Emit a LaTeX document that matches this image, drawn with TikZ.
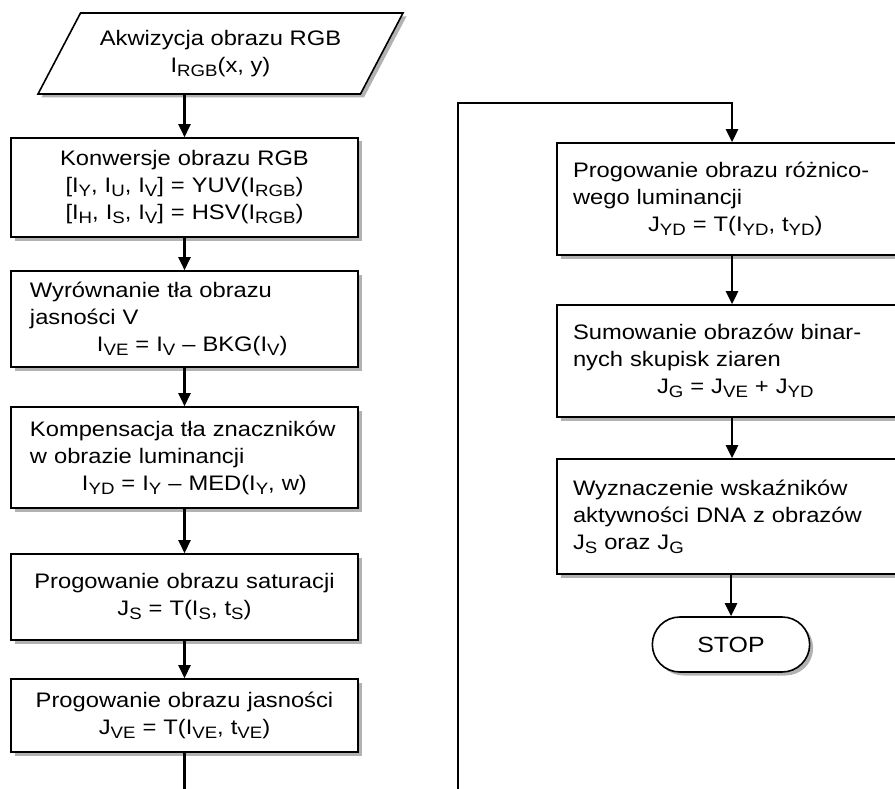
\documentclass[tikz,border=0pt]{standalone}
\usepackage{fontspec}
\setmainfont{Liberation Sans}[FakeStretch=1.13]
\usetikzlibrary{arrows.meta,shapes.geometric,shapes.misc,shadows}
\newcommand\sbs[1]{\raisebox{-4pt}{\fontsize{16.5}{16.5}\selectfont #1}}
\tikzset{
  box/.style={draw, line width=1.6pt, fill=white,
    drop shadow={shadow xshift=3.5pt, shadow yshift=-3.5pt, fill=gray!60, opacity=1},
    inner ysep=0pt, font=\fontsize{21}{27}\selectfont},
  lbox/.style={box, rectangle, text width=309pt, inner xsep=19pt, align=left},
  cbox/.style={box, rectangle, text width=309pt, inner xsep=19pt, align=center},
  rbox/.style={box, rectangle, text width=318pt, inner xsep=16pt, align=left},
  conn/.style={line width=2.6pt, -{Triangle[width=12pt,length=13pt]}},
  wire/.style={line width=2.6pt}
}
\begin{document}
\begin{tikzpicture}[x=1pt,y=-1pt]
\useasboundingbox (0,0) rectangle (895,789);
\begin{scope}
\clip (0,0) rectangle (895,789);
\node[box, trapezium, trapezium left angle=47.6, trapezium right angle=132.4,
  trapezium stretches body, minimum width=365pt, minimum height=81pt,
  align=center, inner xsep=0pt] (acq) at (220.5,53.5)
  {Akwizycja obrazu RGB\\\mbox{I\sbs{RGB}(x, y)}};

\node[cbox, minimum height=99pt] (b1) at (184.5,187.5)
  {\mbox{Konwersje obrazu RGB}\\\mbox{[I\sbs{Y}, I\sbs{U}, I\sbs{V}] = YUV(I\sbs{RGB})}\\\mbox{[I\sbs{H}, I\sbs{S}, I\sbs{V}] = HSV(I\sbs{RGB})}};
\node[lbox, minimum height=96pt] (b2) at (184.5,319)
  {\mbox{Wyrównanie tła obrazu}\\\mbox{jasności V}\\\hspace*{67pt}\mbox{I\sbs{VE} = I\sbs{V} – BKG(I\sbs{V})}};
\node[lbox, minimum height=101pt] (b3) at (184.5,457.5)
  {\mbox{Kompensacja tła znaczników}\\\mbox{w obrazie luminancji}\\\hspace*{52pt}\mbox{I\sbs{YD} = I\sbs{Y} – MED(I\sbs{Y}, w)}};
\node[cbox, minimum height=86pt] (b4) at (184.5,597)
  {\mbox{Progowanie obrazu saturacji}\\\mbox{J\sbs{S} = T(I\sbs{S}, t\sbs{S})}};
\node[cbox, minimum height=73pt] (b5) at (184.5,715.5)
  {\mbox{Progowanie obrazu jasności}\\\mbox{J\sbs{VE} = T(I\sbs{VE}, t\sbs{VE})}};

\node[rbox, minimum height=112pt] (r1) at (732,199)
  {\mbox{Progowanie obrazu różnico-}\\\mbox{wego luminancji}\\\hspace*{75pt}\mbox{J\sbs{YD} = T(I\sbs{YD}, t\sbs{YD})}};
\node[rbox, minimum height=112pt] (r2) at (732,361)
  {\mbox{Sumowanie obrazów binar-}\\\mbox{nych skupisk ziaren}\\\hspace*{84pt}\mbox{J\sbs{G} = J\sbs{VE} + J\sbs{YD}}};
\node[rbox, minimum height=115pt] (r3) at (732,516.5)
  {\mbox{Wyznaczenie wskaźników}\\\mbox{aktywności DNA z obrazów}\\\mbox{J\sbs{S} oraz J\sbs{G}}};
\node[box, rounded rectangle, minimum width=164pt, minimum height=55pt,
  font=\fontsize{22}{27}\selectfont] (stop) at (731,644.5) {STOP};

\coordinate (lend) at (184.5,789);
\coordinate (rstart) at (458,789);
\coordinate (rtop) at (458,103);

\draw[conn] (b1.north |- acq.south) -- (b1.north);
\draw[conn] (b1) -- (b2);
\draw[conn] (b2) -- (b3);
\draw[conn] (b3) -- (b4);
\draw[conn] (b4) -- (b5);
\draw[wire] (b5) -- (lend);
\draw[conn] (rstart) -- (rtop) -| (r1.north);
\draw[conn] (r1) -- (r2);
\draw[conn] (r2) -- (r3);
\draw[conn] (r3.south -| stop.north) -- (stop.north);
\end{scope}
\end{tikzpicture}
\end{document}
